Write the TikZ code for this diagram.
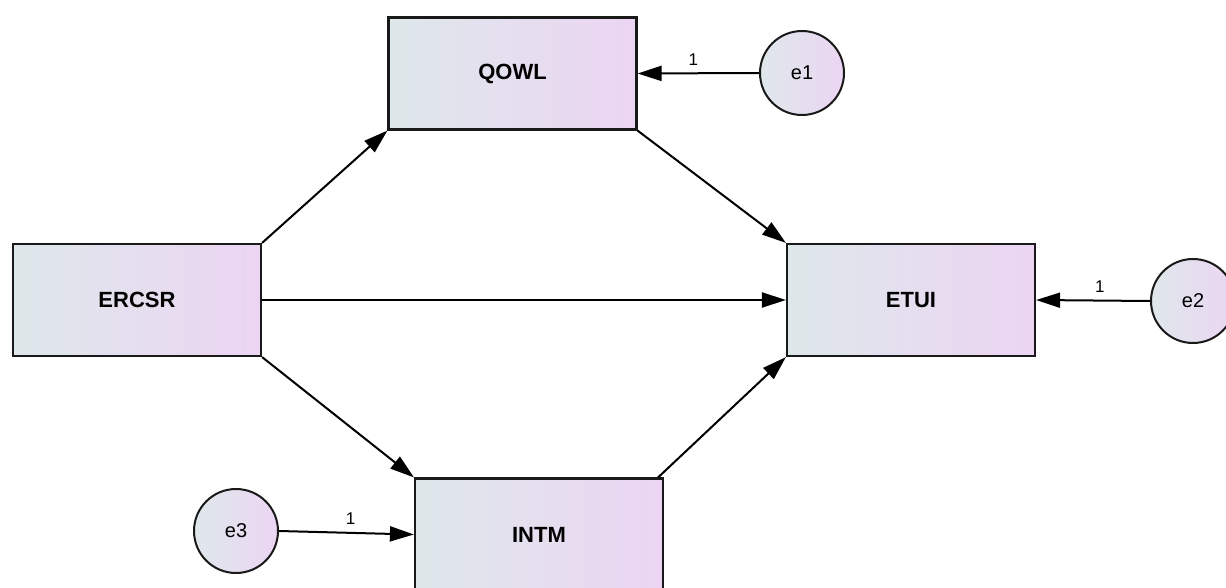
\documentclass[tikz,border=0pt]{standalone}
\usepackage{fontspec}
\setmainfont{Liberation Sans}
\usetikzlibrary{arrows.meta}
\definecolor{gleft}{RGB}{222,232,235}
\definecolor{gright}{RGB}{236,213,243}
\definecolor{edge}{RGB}{25,25,25}
\tikzset{
  varbox/.style={draw=edge, line width=2.2pt, minimum width=248pt, minimum height=112pt,
    shading=axis, shading angle=75, left color=gleft, right color=gright, font=\fontsize{22}{26}\selectfont\bfseries, inner sep=0pt},
  errc/.style={circle, draw=edge, line width=2pt, minimum size=84pt, inner sep=0pt,
    shading=axis, shading angle=135, left color=gleft, right color=gright,
    font=\fontsize{20}{24}\selectfont},
  arr/.style={draw=black, line width=2pt, -{Triangle[length=24pt, width=15pt]}},
  lbl/.style={font=\fontsize{17}{20}\selectfont, inner sep=7pt}
}
\begin{document}
\begin{tikzpicture}[x=1pt, y=-1pt]
\useasboundingbox (0,0) rectangle (1226,588);
\clip (0,0) rectangle (1226,588);
\node[varbox] (QOWL) at (512.5,73.5) {QOWL};
\node[varbox] (ERCSR) at (137,300) {ERCSR};
\node[varbox] (ETUI) at (911,300) {ETUI};
\node[varbox] (INTM) at (539,534.5) {INTM};
\node[errc] (e1) at (802,73) {e1};
\node[errc] (e2) at (1193,301) {e2};
\node[errc] (e3) at (236,531) {e3};
\draw[arr] (ERCSR.north east) -- (QOWL.south west);
\draw[arr] (QOWL.south east) -- (ETUI.north west);
\draw[arr] (ERCSR.east) -- (ETUI.west);
\draw[arr] (ERCSR.south east) -- (INTM.north west);
\draw[arr] ([xshift=-6pt]INTM.north east) -- (ETUI.south west);
\draw[arr] (e1.west) -- node[lbl, pos=0.54, above] {1} (QOWL.east);
\draw[arr] (e2.west) -- node[lbl, pos=0.44, above] {1} (ETUI.east);
\draw[arr] (e3.east) -- node[lbl, pos=0.53, above] {1} (INTM.west);
\end{tikzpicture}
\end{document}
